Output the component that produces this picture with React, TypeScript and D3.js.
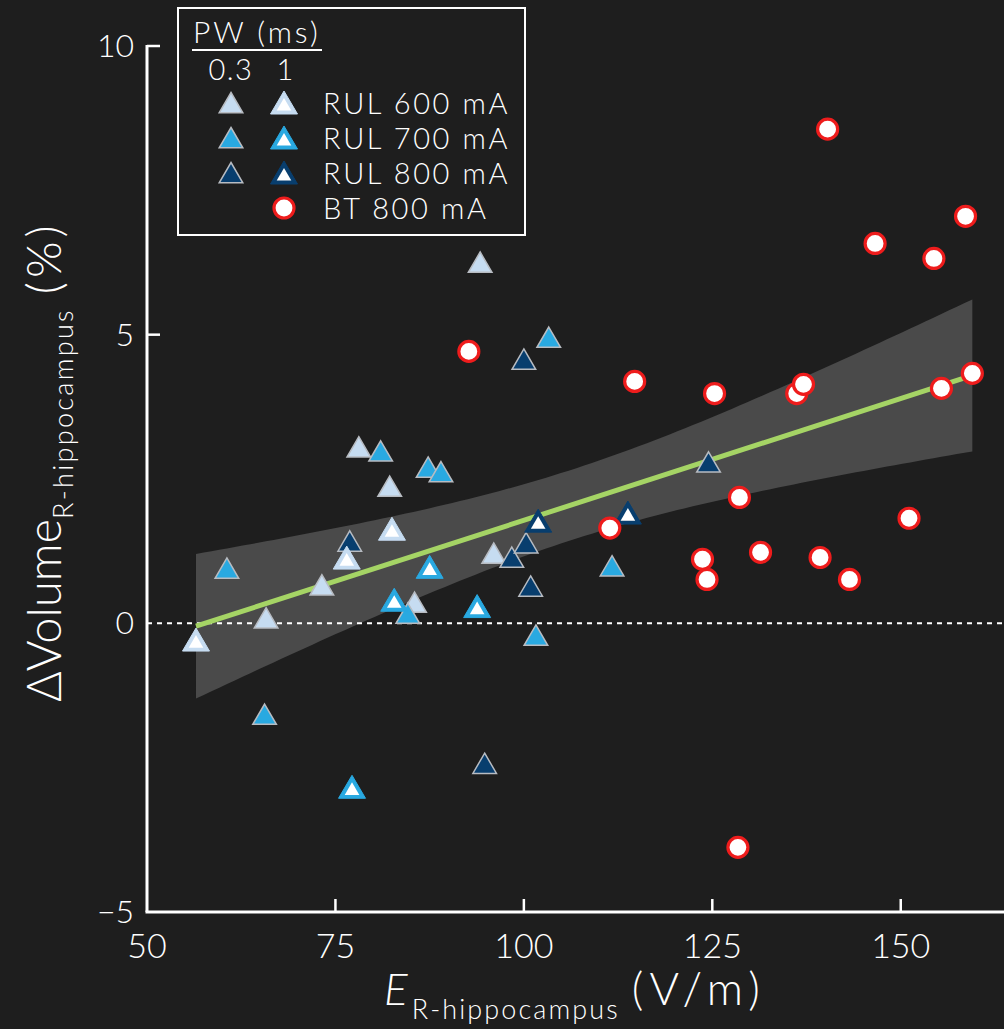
import React from "react";
import * as d3 from "d3";

// ---- data ----
const rul600_pw03_x = [65.8, 73.2, 78.1, 82.2, 85.5, 94.2, 96.0];
const rul600_pw03_y = [0.09, 0.66, 3.05, 2.37, 0.36, 6.25, 1.21];
const rul600_pw1_x = [56.5, 76.5, 82.5];
const rul600_pw1_y = [-0.29, 1.13, 1.63];
const rul700_pw03_x = [60.6, 65.6, 81.0, 87.3, 89.0, 84.6, 103.3, 101.6, 111.7];
const rul700_pw03_y = [0.95, -1.58, 2.98, 2.7, 2.62, 0.17, 4.95, -0.21, 0.99];
const rul700_pw1_x = [77.2, 82.8, 87.5, 93.8];
const rul700_pw1_y = [-2.84, 0.4, 0.97, 0.29];
const rul800_pw03_x = [76.9, 94.8, 100.0, 98.4, 100.3, 100.9, 124.5];
const rul800_pw03_y = [1.42, -2.43, 4.57, 1.14, 1.39, 0.64, 2.79];
const rul800_pw1_x = [101.9, 113.8];
const rul800_pw1_y = [1.77, 1.91];
const bt800_x = [140.3, 158.6, 146.6, 154.4, 114.7, 125.3, 136.2, 137.1, 155.4, 159.5, 128.6, 111.4, 151.1, 123.7, 131.4, 139.3, 124.3, 143.2, 92.7, 128.4];
const bt800_y = [8.56, 7.05, 6.58, 6.32, 4.19, 3.98, 3.98, 4.14, 4.07, 4.33, 2.18, 1.65, 1.82, 1.11, 1.23, 1.14, 0.76, 0.76, 4.71, -3.88];

const xTicks = [50, 75, 100, 125, 150];
const yTicks = [-5, 0, 5, 10];
const legendLabels = ["RUL 600 mA", "RUL 700 mA", "RUL 800 mA", "BT 800 mA"];
const pwLabels = ["0.3", "1"];

const COL_LIGHT = "#c6dcf1";
const COL_MED = "#29a9e1";
const COL_DARK = "#083e6e";
const COL_RED = "#ee1c1c";
const BG = "#1e1e1e";
const FONT = "Lato, 'Open Sans', sans-serif";

type Group = { xs: number[]; ys: number[]; kind: "tri" | "circle"; pw1: boolean; color: string };
const groups: Group[] = [
  { xs: rul600_pw03_x, ys: rul600_pw03_y, kind: "tri", pw1: false, color: COL_LIGHT },
  { xs: rul700_pw03_x, ys: rul700_pw03_y, kind: "tri", pw1: false, color: COL_MED },
  { xs: rul800_pw03_x, ys: rul800_pw03_y, kind: "tri", pw1: false, color: COL_DARK },
  { xs: rul600_pw1_x, ys: rul600_pw1_y, kind: "tri", pw1: true, color: COL_LIGHT },
  { xs: rul700_pw1_x, ys: rul700_pw1_y, kind: "tri", pw1: true, color: COL_MED },
  { xs: rul800_pw1_x, ys: rul800_pw1_y, kind: "tri", pw1: true, color: COL_DARK },
  { xs: bt800_x, ys: bt800_y, kind: "circle", pw1: true, color: COL_RED },
];

const W = 1004;
const H = 1029;
const x = d3.scaleLinear().domain([50, 163.7]).range([147, 1004]);
const y = d3.scaleLinear().domain([-5, 10]).range([912, 46]);

const triPath = "M0,-12 L13.5,11 L-13.5,11 Z";
const triPathInner = "M0,-10.5 L11.8,9.8 L-11.8,9.8 Z";

function Marker({ g, cx, cy }: { g: Group; cx: number; cy: number }) {
  if (g.kind === "circle") {
    return <circle cx={cx} cy={cy} r={10} fill="#ffffff" stroke={g.color} strokeWidth={3.2} />;
  }
  if (g.pw1) {
    return (
      <g transform={`translate(${cx},${cy})`}>
        <path d={triPath} fill={g.color} stroke={g.color} strokeWidth={1} strokeLinejoin="miter" />
        <path d="M0,-5 L7.3,7.6 L-7.3,7.6 Z" fill="#ffffff" />
      </g>
    );
  }
  return (
    <g transform={`translate(${cx},${cy})`}>
      <path d={triPathInner} fill={g.color} stroke="#b8bcc2" strokeWidth={1.5} />
    </g>
  );
}

export default function App() {
  // least-squares fit with 95% confidence band over all points
  const allX: number[] = [];
  const allY: number[] = [];
  groups.forEach((g) => {
    g.xs.forEach((v, i) => {
      allX.push(v);
      allY.push(g.ys[i]);
    });
  });
  const n = allX.length;
  const mx = d3.mean(allX) as number;
  const my = d3.mean(allY) as number;
  let sxx = 0, sxy = 0;
  for (let i = 0; i < n; i++) {
    sxx += (allX[i] - mx) ** 2;
    sxy += (allX[i] - mx) * (allY[i] - my);
  }
  const b = sxy / sxx;
  const a = my - b * mx;
  let sse = 0;
  for (let i = 0; i < n; i++) sse += (allY[i] - (a + b * allX[i])) ** 2;
  const s = Math.sqrt(sse / (n - 2));
  const t = 2.009;
  const [x0, x1] = d3.extent(allX) as [number, number];
  const grid = d3.range(0, 101).map((i) => x0 + ((x1 - x0) * i) / 100);
  const hw = (v: number) => t * s * Math.sqrt(1 / n + (v - mx) ** 2 / sxx);
  const area = d3
    .area<number>()
    .x((v) => x(v))
    .y0((v) => y(a + b * v - hw(v)))
    .y1((v) => y(a + b * v + hw(v)));
  const line = d3.line<number>().x((v) => x(v)).y((v) => y(a + b * v));

  const legendRows = [
    { label: legendLabels[0], c: COL_LIGHT, tri: true },
    { label: legendLabels[1], c: COL_MED, tri: true },
    { label: legendLabels[2], c: COL_DARK, tri: true },
    { label: legendLabels[3], c: COL_RED, tri: false },
  ];
  const rowY = [103, 138, 173, 208];

  return (
    <svg
      width={W}
      height={H}
      style={{ position: "absolute", left: 0, top: 0, background: BG, display: "block" }}
      fontFamily={FONT}
    >
      <rect x={0} y={0} width={W} height={H} fill={BG} />
      {/* CI band */}
      <path d={area(grid) || ""} fill="#4a4a4a" />
      {/* zero line */}
      <line x1={x(50)} x2={W} y1={y(0)} y2={y(0)} stroke="#ffffff" strokeWidth={2} strokeDasharray="5,5" />
      {/* regression line */}
      <path d={line([x0, x1]) || ""} stroke="#a5d465" strokeWidth={5} fill="none" />

      {/* axes */}
      <line x1={x(50)} x2={x(50)} y1={y(10) - 1} y2={y(-5)} stroke="#ffffff" strokeWidth={3} />
      <line x1={x(50) - 1.5} x2={W} y1={y(-5)} y2={y(-5)} stroke="#ffffff" strokeWidth={3} />
      {yTicks.filter((v) => v === 10 || v === 5).map((v) => (
        <line key={"yt" + v} x1={x(50)} x2={x(50) + 13} y1={y(v)} y2={y(v)} stroke="#ffffff" strokeWidth={2.5} />
      ))}
      {xTicks.filter((v) => v > 50).map((v) => (
        <line key={"xt" + v} x1={x(v)} x2={x(v)} y1={y(-5)} y2={y(-5) - 13} stroke="#ffffff" strokeWidth={2.5} />
      ))}
      {yTicks.map((v) => (
        <text key={"yl" + v} x={134} y={y(v) + 11} textAnchor="end" fontSize={32} fontWeight={300} fill="#ffffff">
          {v < 0 ? "\u2212" + Math.abs(v) : v}
        </text>
      ))}
      {xTicks.map((v) => (
        <text key={"xl" + v} x={x(v)} y={958} textAnchor="middle" fontSize={34} fontWeight={300} fill="#ffffff">
          {v}
        </text>
      ))}

      {/* axis titles */}
      <text x={384} y={1005} fill="#ffffff" fontWeight={300}>
        <tspan fontSize={44} fontStyle="italic">E</tspan>
        <tspan fontSize={27} dy={14} dx={4} letterSpacing={2.1}>R-hippocampus</tspan>
        <tspan fontSize={45} dy={-14} dx={12} letterSpacing={6}>(V/m)</tspan>
      </text>
      <text transform="translate(61,702) rotate(-90)" fill="#ffffff" fontWeight={300}>
        <tspan fontSize={47}>ΔVolume</tspan>
        <tspan fontSize={27} dy={12} letterSpacing={2.3}>R-hippocampus</tspan>
        <tspan fontSize={47} dy={-12} dx={14} letterSpacing={4}>(%)</tspan>
      </text>

      {/* points */}
      {groups.map((g, gi) =>
        g.xs.map((v, i) => <Marker key={gi + "-" + i} g={g} cx={x(v)} cy={y(g.ys[i])} />)
      )}

      {/* legend */}
      <rect x={178} y={8} width={347} height={227} fill="none" stroke="#ffffff" strokeWidth={2} />
      <text x={193} y={43} fontSize={30} fontWeight={300} fill="#ffffff" letterSpacing={3}>PW (ms)</text>
      <line x1={192} x2={322} y1={50} y2={50} stroke="#ffffff" strokeWidth={2} />
      <text x={231} y={80} fontSize={29} fontWeight={300} fill="#ffffff" textAnchor="middle" letterSpacing={1.5}>{pwLabels[0]}</text>
      <text x={285} y={80} fontSize={29} fontWeight={300} fill="#ffffff" textAnchor="middle">{pwLabels[1]}</text>
      {legendRows.map((r, i) => (
        <g key={"lg" + i}>
          {r.tri ? (
            <>
              <Marker g={{ xs: [], ys: [], kind: "tri", pw1: false, color: r.c }} cx={231} cy={rowY[i]} />
              <Marker g={{ xs: [], ys: [], kind: "tri", pw1: true, color: r.c }} cx={284} cy={rowY[i]} />
            </>
          ) : (
            <Marker g={{ xs: [], ys: [], kind: "circle", pw1: true, color: r.c }} cx={284} cy={rowY[i]} />
          )}
          <text x={323} y={rowY[i] + 11} fontSize={29} fontWeight={300} fill="#ffffff" letterSpacing={2.6}>{r.label}</text>
        </g>
      ))}
    </svg>
  );
}
